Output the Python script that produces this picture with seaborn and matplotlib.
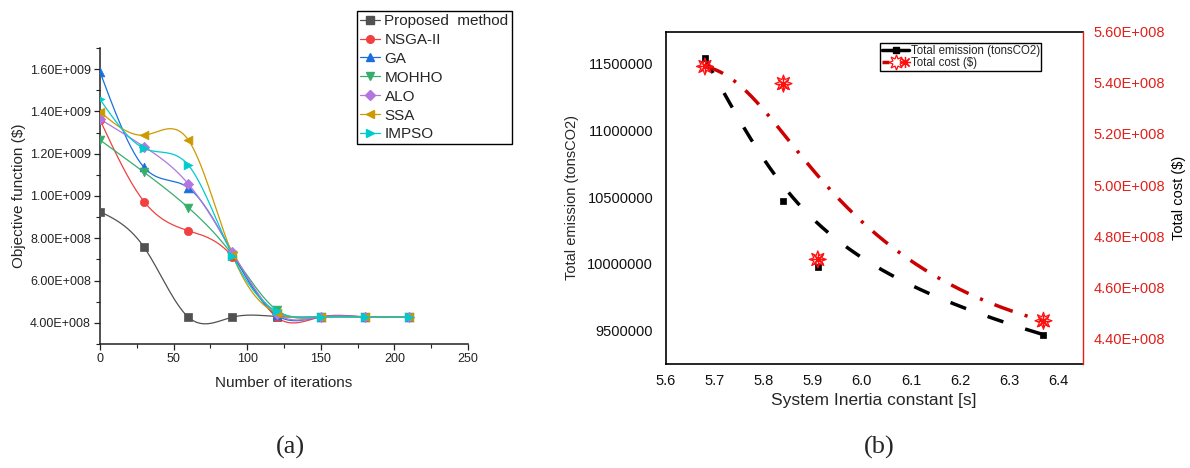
import numpy as np
import matplotlib
matplotlib.use("Agg")
import matplotlib.pyplot as plt
import seaborn as sns
from math import comb
from matplotlib.lines import Line2D
from matplotlib.ticker import FuncFormatter, MultipleLocator
from matplotlib.legend_handler import HandlerTuple

# ---------------- data: convergence of the optimisers ----------------
iterations = [0, 30, 60, 90, 120, 150, 180, 210]
proposed = [9.26e8, 7.57e8, 4.27e8, 4.27e8, 4.30e8, 4.28e8, 4.28e8, 4.28e8]
nsga2 = [1.36e9, 9.73e8, 8.36e8, 7.13e8, 4.27e8, 4.28e8, 4.28e8, 4.28e8]
ga = [1.587e9, 1.135e9, 1.039e9, 7.29e8, 4.36e8, 4.28e8, 4.28e8, 4.28e8]
mohho = [1.265e9, 1.112e9, 9.45e8, 7.21e8, 4.61e8, 4.28e8, 4.28e8, 4.28e8]
alo = [1.364e9, 1.233e9, 1.057e9, 7.35e8, 4.43e8, 4.28e8, 4.28e8, 4.28e8]
ssa = [1.398e9, 1.288e9, 1.265e9, 7.21e8, 4.46e8, 4.28e8, 4.28e8, 4.28e8]
impso = [1.457e9, 1.225e9, 1.146e9, 7.18e8, 4.54e8, 4.28e8, 4.28e8, 4.28e8]

method_names = ["Proposed  method", "NSGA-II", "GA", "MOHHO", "ALO", "SSA", "IMPSO"]
method_values = [proposed, nsga2, ga, mohho, alo, ssa, impso]
method_colors = ["#515151", "#F14040", "#1A6FDF", "#37AD6B", "#B177DE", "#CC9900", "#00CBCC"]
method_markers = ["s", "o", "^", "v", "D", "<", ">"]
method_msize = [32, 36, 40, 40, 28, 40, 40]

# ---------------- data: emission / cost trade-off ----------------
inertia = [5.68, 5.84, 5.91, 6.37]
emission = [11540000, 10470000, 9980000, 9470000]
cost = [5.464e8, 5.397e8, 4.709e8, 4.469e8]


def natural_spline(x, y, num=400):
    """Natural cubic spline through the given points (smooth connecting line)."""
    x = np.asarray(x, float)
    y = np.asarray(y, float)
    n = len(x)
    h = np.diff(x)
    A = np.zeros((n, n))
    r = np.zeros(n)
    A[0, 0] = A[-1, -1] = 1.0
    for i in range(1, n - 1):
        A[i, i - 1] = h[i - 1]
        A[i, i] = 2 * (h[i - 1] + h[i])
        A[i, i + 1] = h[i]
        r[i] = 6 * ((y[i + 1] - y[i]) / h[i] - (y[i] - y[i - 1]) / h[i - 1])
    M = np.linalg.solve(A, r)
    xs = np.linspace(x[0], x[-1], num)
    idx = np.clip(np.searchsorted(x, xs) - 1, 0, n - 2)
    x0, x1 = x[idx], x[idx + 1]
    hh = x1 - x0
    t0, t1 = x1 - xs, xs - x0
    ys = ((M[idx] * t0 ** 3 + M[idx + 1] * t1 ** 3) / (6 * hh)
          + (y[idx] / hh - M[idx] * hh / 6) * t0
          + (y[idx + 1] / hh - M[idx + 1] * hh / 6) * t1)
    return xs, ys


def bspline_curve(x, y, num=400):
    """Bezier/B-spline style smoothing curve using the points as control points."""
    x = np.asarray(x, float)
    y = np.asarray(y, float)
    n = len(x) - 1
    t = np.linspace(0, 1, num)[:, None]
    k = np.arange(n + 1)[None, :]
    coef = np.array([comb(n, i) for i in range(n + 1)])[None, :]
    B = coef * t ** k * (1 - t) ** (n - k)
    return B @ x, B @ y


def sci_fmt(v, _pos=None):
    if v == 0:
        return "0"
    e = int(np.floor(np.log10(abs(v))))
    m = v / 10 ** e
    return f"{m:.2f}E+{e:03d}"


sns.set_theme(style="ticks")
plt.rcParams["font.family"] = ["Liberation Sans", "DejaVu Sans"]
plt.rcParams["axes.unicode_minus"] = False

W, H = 1190, 468
fig = plt.figure(figsize=(W / 100, H / 100), dpi=100)
fig.patch.set_facecolor("white")


def fig_rect(x0, y0, x1, y1):
    return [x0 / W, 1 - y1 / H, (x1 - x0) / W, (y1 - y0) / H]


# ======================= panel (a) =======================
ax = fig.add_axes(fig_rect(100, 48, 468, 344))
for name, vals, col, mk, ms in zip(method_names, method_values, method_colors,
                                    method_markers, method_msize):
    xs, ys = natural_spline(iterations, vals)
    sns.lineplot(x=xs, y=ys, ax=ax, color=col, lw=0.9, sort=False,
                 estimator=None, zorder=2)
    sns.scatterplot(x=iterations, y=vals, ax=ax, marker=mk, s=ms, color=col,
                    edgecolor=col, linewidth=0.5, zorder=3)

ax.set_xlim(0, 250)
ax.set_ylim(3.0e8, 1.7e9)
ax.xaxis.set_major_locator(MultipleLocator(50))
ax.xaxis.set_minor_locator(MultipleLocator(25))
ax.yaxis.set_major_locator(MultipleLocator(2e8))
ax.yaxis.set_minor_locator(MultipleLocator(1e8))
ax.yaxis.set_major_formatter(FuncFormatter(sci_fmt))
ax.tick_params(which="major", direction="out", length=4.5, width=0.9,
               labelsize=9, pad=2, colors="#222222")
ax.tick_params(which="minor", direction="out", length=3, width=0.8,
               colors="#222222")
for side in ("top", "right"):
    ax.spines[side].set_visible(False)
for side in ("left", "bottom"):
    ax.spines[side].set_linewidth(1.1)
    ax.spines[side].set_color("#222222")

ax.set_xlabel("Number of iterations", fontsize=11)
ax.set_ylabel("Objective function ($)", fontsize=11)
ax.xaxis.label.set_va("center")
ax.yaxis.label.set_va("center")
ax.xaxis.set_label_coords(0.5, (344 - 383) / 296)
ax.yaxis.set_label_coords((19 - 100) / 368, 0.5)

handles_a = [Line2D([], [], color=c, lw=0.9, marker=m, ms=5.5,
                    markeredgecolor=c)
             for c, m in zip(method_colors, method_markers)]
leg_a = fig.legend(handles_a, method_names, loc="upper left",
                   bbox_to_anchor=(357 / W, 1 - 11 / H),
                   bbox_transform=fig.transFigure, fontsize=11,
                   frameon=True, fancybox=False, framealpha=1,
                   edgecolor="black", borderaxespad=0, borderpad=0.2,
                   labelspacing=0.32, handlelength=1.3, handletextpad=0.3)
leg_a.get_frame().set_linewidth(1.0)

# ======================= panel (b) =======================
bx = fig.add_axes(fig_rect(665.7, 31.7, 1082.7, 364))
cx = bx.twinx()

ex, ey = bspline_curve(inertia, emission)
sns.lineplot(x=ex, y=ey, ax=bx, color="black", lw=2.5, sort=False,
             estimator=None, linestyle=(0, (4.8, 6.6)), zorder=2)
sns.scatterplot(x=inertia, y=emission, ax=bx, marker="s", s=22,
                color="black", edgecolor="black", linewidth=0.5, zorder=3)

cxs, cys = bspline_curve(inertia, cost)
red = "#CC0000"
star_red = "#FF1010"
sns.lineplot(x=cxs, y=cys, ax=cx, color=red, lw=2.5, sort=False,
             estimator=None, linestyle=(0, (5.6, 3.6, 0.9, 3.6)), zorder=2)
sns.scatterplot(x=inertia, y=cost, ax=cx, marker=(8, 1, 0), s=150,
                facecolor="none", edgecolor=star_red, linewidth=0.9, zorder=3)
sns.scatterplot(x=inertia, y=cost, ax=cx, marker=(8, 2, 0), s=80,
                color=star_red, edgecolor=star_red, linewidth=0.9, zorder=3)

bx.set_xlim(5.6, 6.45)
bx.set_ylim(9.25e6, 11.74e6)
cx.set_ylim(4.30e8, 5.60e8)
bx.xaxis.set_major_locator(MultipleLocator(0.1))
bx.xaxis.set_major_formatter(FuncFormatter(lambda v, p: f"{v:.1f}"))
bx.yaxis.set_major_locator(MultipleLocator(5e5))
bx.yaxis.set_major_formatter(FuncFormatter(lambda v, p: f"{int(round(v))}"))
cx.yaxis.set_major_locator(MultipleLocator(2e7))
cx.yaxis.set_major_formatter(FuncFormatter(sci_fmt))

bx.tick_params(axis="x", length=0, labelsize=10.5, pad=7, colors="#111111")
bx.tick_params(axis="y", length=0, labelsize=10.5, pad=9, colors="#111111")
cx.tick_params(axis="y", length=0, labelsize=10.5, pad=8, colors="#E0201B")

for side in ("left", "bottom", "top"):
    bx.spines[side].set_linewidth(1.2)
    bx.spines[side].set_color("black")
bx.spines["right"].set_visible(False)
for side in ("left", "bottom", "top"):
    cx.spines[side].set_visible(False)
cx.spines["right"].set_color("#E0201B")
cx.spines["right"].set_linewidth(1.0)

bx.set_xlabel("System Inertia constant [s]", fontsize=12.5)
bx.set_ylabel("Total emission (tonsCO2)", fontsize=10.5)
cx.set_ylabel("Total cost ($)", fontsize=10.5, color="black")
bx.xaxis.label.set_va("center")
bx.yaxis.label.set_va("center")
cx.yaxis.label.set_va("center")
bx.xaxis.set_label_coords(0.5, (364 - 401) / 332.3)
bx.yaxis.set_label_coords((572 - 665.7) / 417, 0.5)
cx.yaxis.set_label_coords((1179 - 665.7) / 417, 0.5)

h_em = Line2D([], [], color="black", lw=2.5, marker="s", ms=5)
h_cost = (Line2D([], [], color=red, lw=2.5, linestyle=(0, (2, 1))),
          Line2D([], [], color="none", marker=(8, 1, 0), ms=11,
                 markerfacecolor="none", markeredgecolor=star_red, mew=0.9),
          Line2D([], [], color="none", marker=(8, 2, 0), ms=8,
                 markeredgecolor=star_red, mew=0.9))
leg_b = fig.legend([h_em, h_cost], ["Total emission (tonsCO2)", "Total cost ($)"],
                   handler_map={tuple: HandlerTuple(ndivide=None)},
                   loc="upper left", bbox_to_anchor=(880 / W, 1 - 43 / H),
                   bbox_transform=fig.transFigure, fontsize=8.3,
                   frameon=True, fancybox=False, framealpha=1,
                   edgecolor="black", borderaxespad=0, borderpad=0.15,
                   labelspacing=0.05, handlelength=2.4, handletextpad=0.1)
leg_b.get_frame().set_linewidth(1.0)

# ---------------- panel captions ----------------
fig.text(290 / W, 1 - 447 / H, "(a)", ha="center", va="center",
         fontsize=19, family=["Liberation Serif", "DejaVu Serif"])
fig.text(879 / W, 1 - 447 / H, "(b)", ha="center", va="center",
         fontsize=19, family=["Liberation Serif", "DejaVu Serif"])

fig.savefig("out.png", dpi=100, facecolor="white")
